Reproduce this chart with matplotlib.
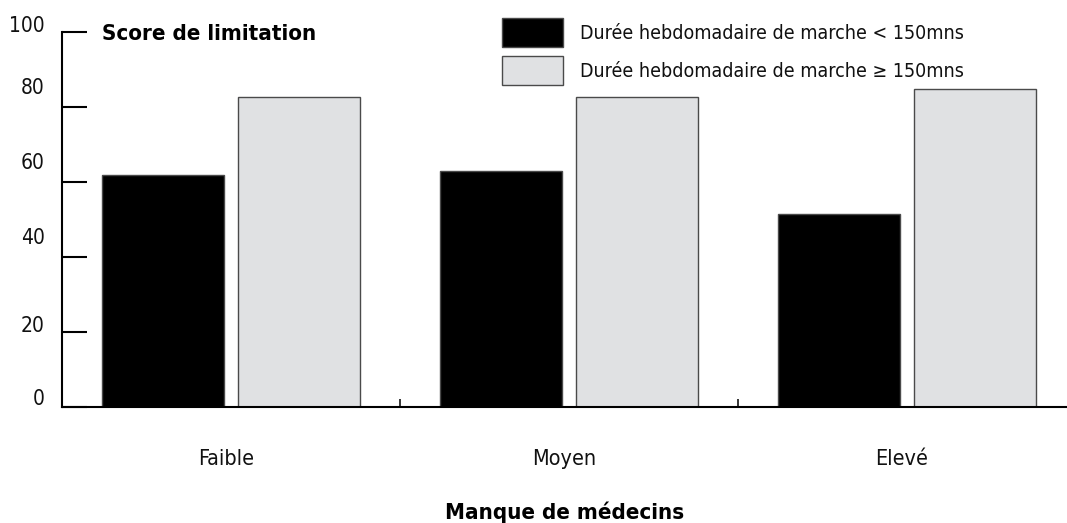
import matplotlib
matplotlib.use("Agg")
import matplotlib.pyplot as plt
import matplotlib.transforms as mtransforms
import numpy as np

# Data
categories = ["Faible", "Moyen", "Elevé"]
series_names = ["Durée hebdomadaire de marche < 150mns",
                "Durée hebdomadaire de marche ≥ 150mns"]
under_150 = [62, 63, 51.5]
over_150 = [82.8, 82.6, 84.9]
y_ticks = [0, 20, 40, 60, 80, 100]
y_tick_labels = ["0", "20", "40", "60", "80", "100"]

plt.rcParams["font.family"] = ["DejaVu Sans"]
plt.rcParams["font.stretch"] = "condensed"

DPI = 100
fig = plt.figure(figsize=(10.67, 5.23), dpi=DPI)
W, H = 1067, 523

# axes box in pixels: left 62, right 1067, bottom 407, top 32
ax = fig.add_axes([62 / W, (H - 407) / H, (W - 62) / W, (407 - 32) / H])

x = np.arange(len(categories))
offset = 0.2
width = 0.361
edge = "#4a4a4a"
b1 = ax.bar(x - offset, under_150, width, color="black", edgecolor=edge,
            linewidth=1.0, label=series_names[0], zorder=2)
b2 = ax.bar(x + offset, over_150, width, color="#e0e1e3", edgecolor=edge,
            linewidth=1.0, label=series_names[1], zorder=2)

ax.set_xlim(-0.5, -0.5 + (W - 62) / 338)
ax.set_ylim(0, 100)

for s in ("top", "right"):
    ax.spines[s].set_visible(False)
for s in ("left", "bottom"):
    ax.spines[s].set_linewidth(1.5)
    ax.spines[s].set_color("black")

# y ticks: inward marks, labels drawn separately
ax.set_yticks(y_ticks)
ax.set_yticklabels([])
ax.tick_params(axis="y", direction="in", length=18, width=1.5, color="black")
label_shift_px = [8, 6, 19, 19, 19, 6]
for val, lab, dy in zip(y_ticks, y_tick_labels, label_shift_px):
    tr = ax.get_yaxis_transform() + mtransforms.ScaledTranslation(
        -17 / DPI, dy / DPI, fig.dpi_scale_trans)
    ax.text(0, val, lab, transform=tr, ha="right", va="center",
            fontsize=15, color="#111111")

# x ticks: category labels, small separators between groups
ax.set_xticks(x)
ax.set_xticklabels(categories, fontsize=15.5, color="#111111")
ax.tick_params(axis="x", which="major", length=0, pad=30)
ax.set_xticks(x[:-1] + 0.5, minor=True)
ax.tick_params(axis="x", which="minor", direction="in", length=6, width=1.1,
               color="black")
for lbl in ax.get_xticklabels():
    lbl.set_transform(lbl.get_transform() + mtransforms.ScaledTranslation(
        -5 / DPI, 0, fig.dpi_scale_trans))

# axis titles
ax.set_xlabel("Manque de médecins", fontsize=16, fontweight="bold",
              va="baseline")
ax.xaxis.set_label_coords(0.5, (407 - 519) / 375)
ax.text((102 - 62) / (W - 62), (407 - 40) / 375, "Score de limitation",
        transform=ax.transAxes, fontsize=16, fontweight="bold",
        ha="left", va="baseline")

leg_fs = 14
fs_px = leg_fs / 72 * DPI
leg = ax.legend(handles=[b1, b2], loc="upper left",
                bbox_to_anchor=(502 / W, 1 - 18 / H),
                bbox_transform=fig.transFigure, frameon=False,
                fontsize=leg_fs, borderpad=0, borderaxespad=0,
                handlelength=61 / fs_px,
                handleheight=(29 / fs_px - 0.245) / 0.65,
                handletextpad=17 / fs_px, labelspacing=9 / fs_px)
for t in leg.get_texts():
    t.set_color("#111111")

fig.savefig("out.png", dpi=DPI)
